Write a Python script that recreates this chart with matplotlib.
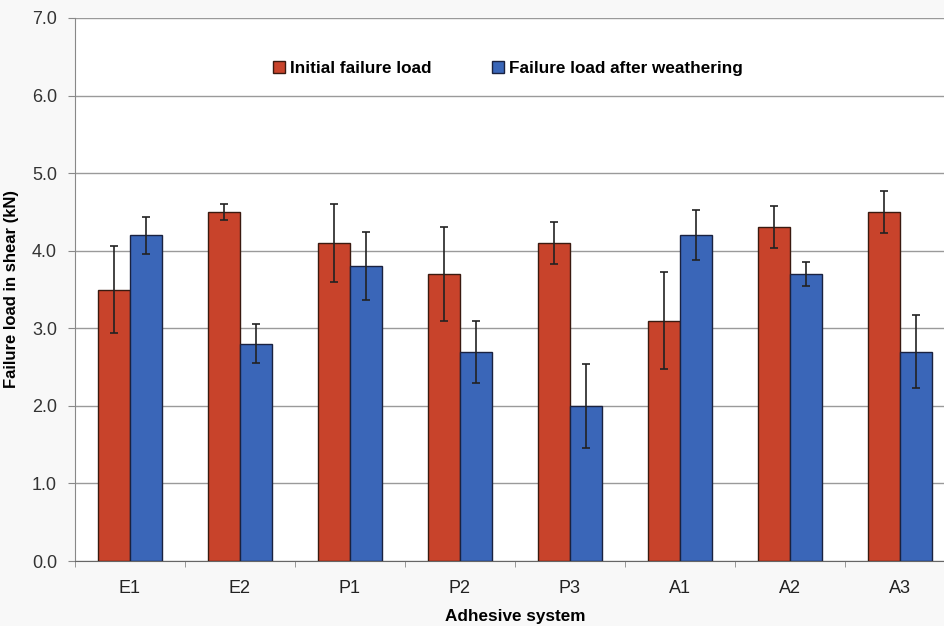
import numpy as np
import matplotlib.pyplot as plt

plt.rcParams['font.family'] = ['Liberation Sans', 'DejaVu Sans']

# data
systems = ['E1', 'E2', 'P1', 'P2', 'P3', 'A1', 'A2', 'A3']
initial = [3.5, 4.5, 4.1, 3.7, 4.1, 3.1, 4.3, 4.5]
initial_err = [0.56, 0.10, 0.50, 0.60, 0.27, 0.63, 0.27, 0.27]
weathered = [4.2, 2.8, 3.8, 2.7, 2.0, 4.2, 3.7, 2.7]
weathered_err = [0.24, 0.25, 0.44, 0.40, 0.54, 0.32, 0.16, 0.47]
yticks = [0.0, 1.0, 2.0, 3.0, 4.0, 5.0, 6.0, 7.0]

red = '#c8432b'
blue = '#3a66b8'

fig = plt.figure(figsize=(9.44, 6.26), dpi=100, facecolor='#f8f8f8')
# axes runs past the right edge like the cropped original
ax = fig.add_axes([75/944, (626-561)/626, 880/944, 543/626])
ax.set_facecolor('white')

x = np.arange(len(systems))
w = 0.295
ebar = dict(ecolor='#222222', elinewidth=1.2, capsize=3, capthick=1.2)
ax.bar(x - w/2, initial, w, color=red, edgecolor='#3a1a10', linewidth=1,
       yerr=initial_err, error_kw=ebar, label='Initial failure load', zorder=3)
ax.bar(x + w/2, weathered, w, color=blue, edgecolor='#1a2240', linewidth=1,
       yerr=weathered_err, error_kw=ebar, label='Failure load after weathering', zorder=3)

ax.set_xlim(-0.5, 7.5)
ax.set_ylim(0, 7)
ax.set_yticks(yticks)
ax.set_yticklabels(['%.1f' % t for t in yticks], fontsize=13, color='#333333')
ax.set_xticks(x)
ax.set_xticklabels(systems, fontsize=13, color='#222222')
ax.set_xticks(np.arange(-0.5, 8, 1), minor=True)
ax.tick_params(axis='x', which='major', length=0, pad=14)
ax.tick_params(axis='x', which='minor', length=4, color='#888888')
ax.tick_params(axis='y', length=5, color='#888888', pad=8)
ax.yaxis.grid(True, color='#9a9a9a', linewidth=1, zorder=0)
for s in ['top', 'right']:
    ax.spines[s].set_visible(False)
ax.spines['left'].set_color('#888888')
ax.spines['bottom'].set_color('#666666')

ax.set_ylabel('Failure load in shear (kN)', fontsize=12, fontweight='bold')
ax.set_xlabel('Adhesive system', fontsize=12.3, fontweight='bold')
ax.yaxis.set_label_coords(-56/880, 0.5)
ax.xaxis.set_label_coords(440/880, -0.088)

leg = ax.legend(loc='upper left', bbox_to_anchor=(183/880, 0.95), ncol=2, frameon=False,
                prop={'weight': 'bold', 'size': 12.3}, handlelength=0.7, handleheight=0.7,
                handletextpad=0.3, columnspacing=3.5)

fig.savefig('out.png', dpi=100, facecolor=fig.get_facecolor())
